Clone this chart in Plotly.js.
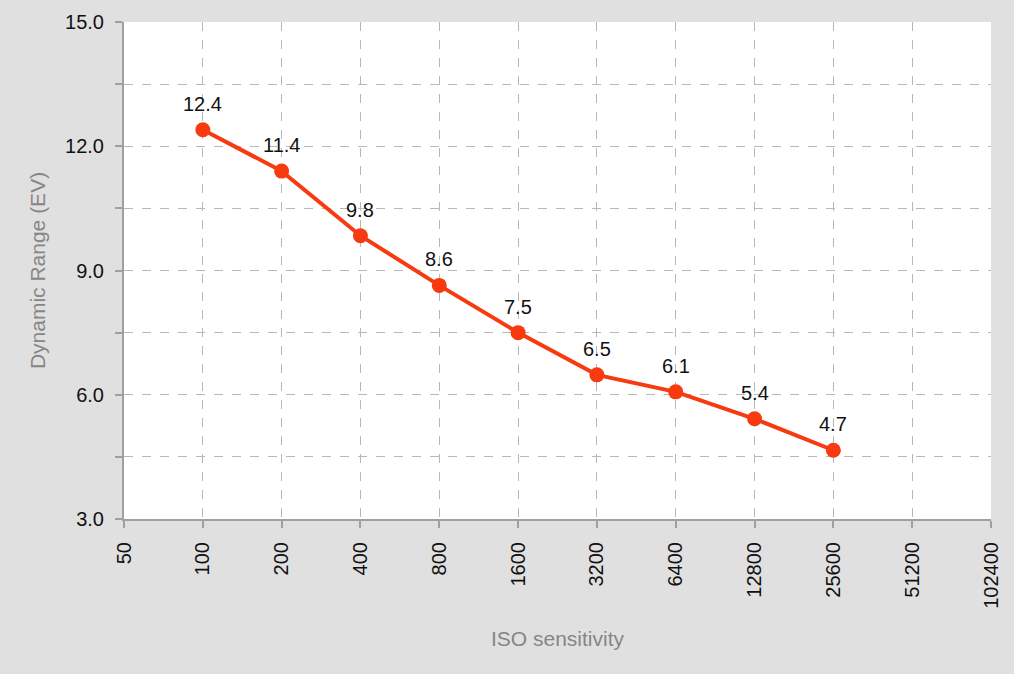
<!DOCTYPE html>
<html><head><meta charset="utf-8">
<script src="https://cdn.plot.ly/plotly-3.0.1.min.js"></script>
<style>html,body{margin:0;padding:0;background:#e0e0e0;}#chart{width:1014px;height:674px;}</style>
</head><body><div id="chart"></div>
<script>
const isoValues = [100, 200, 400, 800, 1600, 3200, 6400, 12800, 25600];
const dynamicRange = [12.4, 11.4, 9.84, 8.64, 7.5, 6.48, 6.07, 5.42, 4.66];
const xTickValues = [50, 100, 200, 400, 800, 1600, 3200, 6400, 12800, 25600, 51200, 102400];
const xTickLabels = ['50','100','200','400','800','1600','3200','6400','12800','25600','51200','102400'];
const yTickValues = [3, 4.5, 6, 7.5, 9, 10.5, 12, 13.5, 15];
const yTickLabels = ['3.0','','6.0','','9.0','','12.0','','15.0'];

const FONT = 'Liberation Sans, Arial, sans-serif';
const trace = {
  x: isoValues, y: dynamicRange, type: 'scatter', mode: 'lines+markers',
  line: {color: '#f83a10', width: 4},
  marker: {color: '#f83a10', size: 15},
  cliponaxis: false, hoverinfo: 'skip'
};
const annotations = isoValues.map((x, i) => ({
  x: Math.log10(x), y: dynamicRange[i], xref: 'x', yref: 'y',
  text: dynamicRange[i].toFixed(1), showarrow: false,
  yshift: 26, yanchor: 'middle', xanchor: 'center',
  font: {family: FONT, size: 20, color: '#111'}
}));
const layout = {
  width: 1014, height: 674,
  paper_bgcolor: '#e0e0e0', plot_bgcolor: '#ffffff',
  margin: {l: 124, r: 23, t: 22, b: 155},
  showlegend: false,
  font: {family: FONT, size: 20, color: '#111'},
  annotations: annotations,
  xaxis: {
    type: 'log', range: [Math.log10(50), Math.log10(102400)],
    tickmode: 'array', tickvals: xTickValues, ticktext: xTickLabels,
    tickfont: {family: FONT, size: 20, color: '#111'},
    tickangle: -90, ticks: 'outside', ticklen: 7, tickcolor: '#a0a0a0', tickwidth: 2,
    ticklabelstandoff: 6,
    showline: true, linecolor: '#a0a0a0', linewidth: 2,
    showgrid: true, gridcolor: '#b8b8b8', griddash: 'dash', gridwidth: 1,
    zeroline: false,
    title: {text: 'ISO sensitivity', font: {family: FONT, size: 21, color: '#868686'}, standoff: 24}
  },
  yaxis: {
    range: [3, 15], tickmode: 'array', tickvals: yTickValues, ticktext: yTickLabels,
    tickfont: {family: FONT, size: 20, color: '#111'},
    ticks: 'outside', ticklen: 7, tickcolor: '#a0a0a0', tickwidth: 2,
    ticklabelstandoff: 7,
    showline: true, linecolor: '#a0a0a0', linewidth: 2,
    showgrid: true, gridcolor: '#b8b8b8', griddash: 'dash', gridwidth: 1,
    zeroline: false,
    title: {text: 'Dynamic Range (EV)', font: {family: FONT, size: 21, color: '#868686'}, standoff: 14}
  }
};
Plotly.newPlot('chart', [trace], layout, {displayModeBar: false, staticPlot: true});
</script></body></html>
